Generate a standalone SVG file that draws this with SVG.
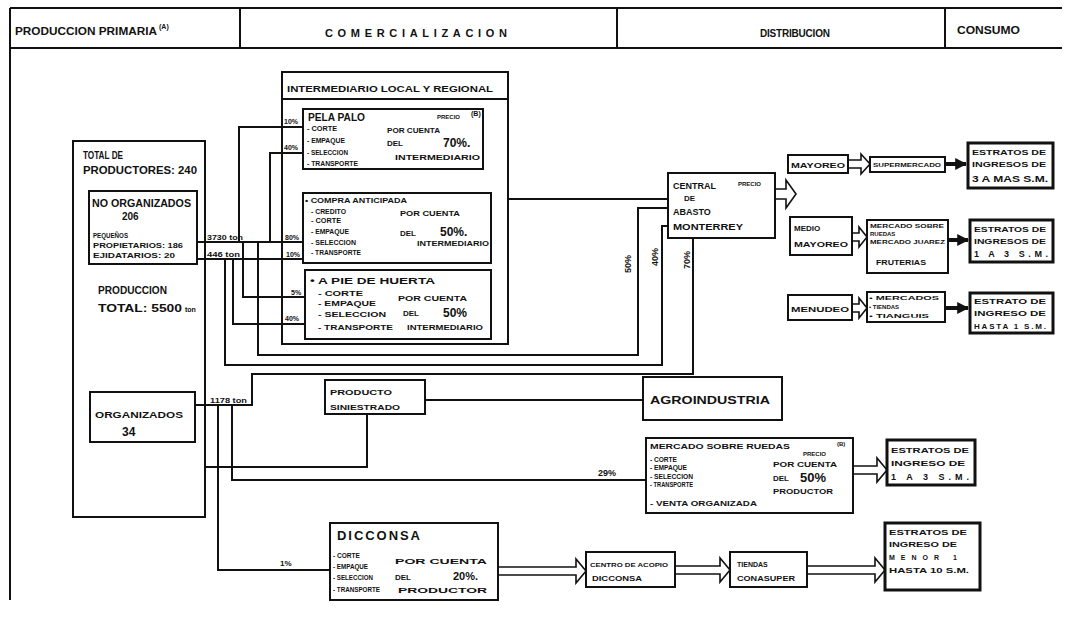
<svg xmlns="http://www.w3.org/2000/svg" width="1070" height="617" viewBox="0 0 1070 617">
<defs>
<style>
.ln{stroke:#111;stroke-width:2;fill:none}
.bx{fill:#fff;stroke:#111;stroke-width:2}
.bx3{fill:#fff;stroke:#111;stroke-width:3}
.ct{fill:none;stroke:#111;stroke-width:2}
.ha{fill:#fff;stroke:#111;stroke-width:1.6}
.fa{fill:none;stroke:#111;stroke-width:4}
text{font-family:"Liberation Sans",Arial,sans-serif;font-weight:bold;fill:#111}
.s6{font-size:6px}.s7{font-size:7px}.s8{font-size:8px}.s9{font-size:9px}.s10{font-size:10px}.s11{font-size:11px}.s12{font-size:12px}.s13{font-size:13px}
</style>
<marker id="ah" viewBox="0 0 10 10" refX="9" refY="5" markerWidth="3" markerHeight="3.2" orient="auto" markerUnits="strokeWidth">
<path d="M0,0 L10,5 L0,10 z" fill="#111"/>
</marker>
</defs>
<rect width="1070" height="617" fill="#fff"/>

<g id="header">
<path class="ln" d="M10,8 H1062 M10,48 H1062 M10,8 V600 M240,8 V48 M617,8 V48 M945,8 V48"/>
<text class="s10" x="15" y="35" textLength="142" lengthAdjust="spacingAndGlyphs">PRODUCCION PRIMARIA</text>
<text class="s7" x="159" y="29">(A)</text>
<text class="s11" x="325" y="37" textLength="182" lengthAdjust="spacing">COMERCIALIZACION</text>
<text class="s10" x="760" y="37" textLength="70" lengthAdjust="spacing">DISTRIBUCION</text>
<text class="s10" x="957" y="34" textLength="63" lengthAdjust="spacingAndGlyphs">CONSUMO</text>
</g>

<g id="connectors">
<path class="ln" d="M197,242 H303"/>
<path class="ln" d="M197,259 H303"/>
<path class="ln" d="M239,242 V127 H303"/>
<path class="ln" d="M270,242 V153 H303"/>
<path class="ln" d="M243,242 V297 H305"/>
<path class="ln" d="M233,259 V324 H305"/>
<path class="ln" d="M258,242 V355 H638 V208 H668"/>
<path class="ln" d="M225,259 V365 H662 V226 H668"/>
<path class="ln" d="M508,199 H668"/>
<path class="ln" d="M195,405 H252 V374 H693 V238"/>
<path class="ln" d="M218,405 V570 H330"/>
<path class="ln" d="M232,405 V480 H646"/>
<path class="ln" d="M205,467 H367 V414"/>
<path class="ln" d="M425,400 H643"/>
<path class="ha" d="M775,189 H786 V180 L796,194 L786,208 V199 H775"/>
<path class="ha" d="M849,160 H861 V154 L870,164 L861,174 V168 H849"/>
<path class="ha" d="M852,233 H859 V227 L867,237 L859,247 V241 H852"/>
<path class="ha" d="M852,304 H859 V298 L867,308 L859,318 V312 H852"/>
<path class="ha" d="M853,466 H877 V458 L887,470 L877,482 V474 H853"/>
<path class="ha" d="M498,567 H576 V559 L586,571 L576,583 V575 H498"/>
<path class="ha" d="M675,566 H720 V558 L730,570 L720,582 V574 H675"/>
<path class="ha" d="M807,566 H875 V558 L885,570 L875,582 V574 H807"/>
<path class="fa" d="M945,164 H966" marker-end="url(#ah)"/>
<path class="fa" d="M948,240 H968" marker-end="url(#ah)"/>
<path class="fa" d="M945,308 H968" marker-end="url(#ah)"/>
<text class="s7" x="207" y="240" textLength="36" lengthAdjust="spacingAndGlyphs">3730 ton</text>
<text class="s7" x="207" y="257" textLength="33" lengthAdjust="spacingAndGlyphs">446 ton</text>
<text class="s7" x="284" y="124">10%</text>
<text class="s7" x="284" y="150">40%</text>
<text class="s7" x="285" y="240">80%</text>
<text class="s7" x="286" y="257">10%</text>
<text class="s7" x="291" y="295">5%</text>
<text class="s7" x="285" y="321">40%</text>
<text class="s9" transform="translate(631,264) rotate(-90)" text-anchor="middle">50%</text>
<text class="s9" transform="translate(658,257) rotate(-90)" text-anchor="middle">40%</text>
<text class="s9" transform="translate(690,260) rotate(-90)" text-anchor="middle">70%</text>
<text class="s7" x="210" y="403" textLength="37" lengthAdjust="spacingAndGlyphs">1178 ton</text>
<text class="s9" x="598" y="476">29%</text>
<text class="s8" x="280" y="566">1%</text>
</g>

<g id="total-productores">
<rect class="ct" x="73" y="141" width="132" height="376"/>
<text class="s10" x="83" y="159" textLength="40" lengthAdjust="spacingAndGlyphs">TOTAL DE</text>
<text class="s10" x="83" y="174" textLength="114" lengthAdjust="spacingAndGlyphs">PRODUCTORES: 240</text>
<text class="s10" x="98" y="294" textLength="69" lengthAdjust="spacingAndGlyphs">PRODUCCION</text>
<text class="s11" x="98" y="312" textLength="84" lengthAdjust="spacingAndGlyphs">TOTAL: 5500</text>
<text class="s7" x="185" y="312">ton</text>
</g>

<g id="no-organizados">
<rect class="bx" x="89" y="191" width="108" height="73"/>
<text class="s10" x="92" y="207" textLength="99" lengthAdjust="spacingAndGlyphs">NO ORGANIZADOS</text>
<text class="s10" x="122" y="220">206</text>
<text class="s8" x="93" y="238" textLength="35" lengthAdjust="spacingAndGlyphs">PEQUEÑOS</text>
<text class="s8" x="93" y="248" textLength="90" lengthAdjust="spacingAndGlyphs">PROPIETARIOS: 186</text>
<text class="s8" x="93" y="258" textLength="82" lengthAdjust="spacingAndGlyphs">EJIDATARIOS: 20</text>
</g>

<g id="organizados">
<rect class="bx" x="90" y="392" width="105" height="50"/>
<text class="s9" x="95" y="418" textLength="88" lengthAdjust="spacingAndGlyphs">ORGANIZADOS</text>
<text class="s12" x="122" y="436">34</text>
</g>

<g id="intermediario">
<rect class="ct" x="282" y="72" width="226" height="272"/>
<path class="ln" d="M282,99 H508"/>
<text class="s9" x="287" y="92" textLength="206" lengthAdjust="spacingAndGlyphs">INTERMEDIARIO LOCAL Y REGIONAL</text>
</g>

<g id="pela-palo">
<rect class="bx" x="303" y="109" width="180" height="60"/>
<text class="s11" x="308" y="121" textLength="57" lengthAdjust="spacingAndGlyphs">PELA PALO</text>
<text class="s6" x="437" y="119">PRECIO</text>
<text class="s7" x="471" y="116">(B)</text>
<text class="s8" x="307" y="131" textLength="30" lengthAdjust="spacingAndGlyphs">- CORTE</text>
<text class="s8" x="307" y="143" textLength="38" lengthAdjust="spacingAndGlyphs">- EMPAQUE</text>
<text class="s8" x="307" y="155" textLength="41" lengthAdjust="spacingAndGlyphs">- SELECCION</text>
<text class="s8" x="307" y="166" textLength="51" lengthAdjust="spacingAndGlyphs">- TRANSPORTE</text>
<text class="s8" x="387" y="133" textLength="53" lengthAdjust="spacingAndGlyphs">POR CUENTA</text>
<text class="s8" x="387" y="146">DEL</text>
<text class="s12" x="443" y="147">70%.</text>
<text class="s8" x="395" y="160" textLength="85" lengthAdjust="spacingAndGlyphs">INTERMEDIARIO</text>
</g>

<g id="compra-anticipada">
<rect class="bx" x="303" y="193" width="188" height="70"/>
<text class="s8" x="305" y="203" textLength="102" lengthAdjust="spacingAndGlyphs">• COMPRA ANTICIPADA</text>
<text class="s8" x="311" y="214" textLength="35" lengthAdjust="spacingAndGlyphs">- CREDITO</text>
<text class="s8" x="311" y="223" textLength="30" lengthAdjust="spacingAndGlyphs">- CORTE</text>
<text class="s8" x="311" y="234" textLength="38" lengthAdjust="spacingAndGlyphs">- EMPAQUE</text>
<text class="s8" x="311" y="245" textLength="45" lengthAdjust="spacingAndGlyphs">- SELECCION</text>
<text class="s8" x="311" y="255" textLength="50" lengthAdjust="spacingAndGlyphs">- TRANSPORTE</text>
<text class="s8" x="400" y="216" textLength="60" lengthAdjust="spacingAndGlyphs">POR CUENTA</text>
<text class="s8" x="400" y="236">DEL</text>
<text class="s12" x="440" y="236">50%.</text>
<text class="s8" x="417" y="246" textLength="72" lengthAdjust="spacingAndGlyphs">INTERMEDIARIO</text>
</g>

<g id="a-pie-de-huerta">
<rect class="bx" x="305" y="270" width="186" height="69"/>
<text class="s9" x="310" y="284" textLength="125" lengthAdjust="spacingAndGlyphs">• A PIE DE HUERTA</text>
<text class="s8" x="318" y="296" textLength="45" lengthAdjust="spacingAndGlyphs">- CORTE</text>
<text class="s8" x="318" y="306" textLength="58" lengthAdjust="spacingAndGlyphs">- EMPAQUE</text>
<text class="s8" x="318" y="317" textLength="68" lengthAdjust="spacingAndGlyphs">- SELECCION</text>
<text class="s8" x="318" y="330" textLength="75" lengthAdjust="spacingAndGlyphs">- TRANSPORTE</text>
<text class="s8" x="398" y="301" textLength="69" lengthAdjust="spacingAndGlyphs">POR CUENTA</text>
<text class="s8" x="403" y="316">DEL</text>
<text class="s12" x="443" y="317">50%</text>
<text class="s8" x="407" y="330" textLength="76" lengthAdjust="spacingAndGlyphs">INTERMEDIARIO</text>
</g>

<g id="central-abasto">
<rect class="bx" x="668" y="173" width="107" height="65"/>
<text class="s9" x="673" y="189">CENTRAL</text>
<text class="s6" x="738" y="186">PRECIO</text>
<text class="s8" x="684" y="201">DE</text>
<text class="s9" x="673" y="215">ABASTO</text>
<text class="s9" x="673" y="230" textLength="70" lengthAdjust="spacingAndGlyphs">MONTERREY</text>
</g>

<g id="mayoreo">
<rect class="bx" x="788" y="155" width="60" height="18"/>
<text class="s8" x="791" y="168" textLength="54" lengthAdjust="spacingAndGlyphs">MAYOREO</text>
</g>
<g id="supermercado">
<rect class="bx" x="870" y="157" width="75" height="15"/>
<text class="s6" x="873" y="167" textLength="68" lengthAdjust="spacingAndGlyphs">SUPERMERCADO</text>
</g>
<g id="estratos-1">
<rect class="bx3" x="968" y="143" width="85" height="45"/>
<text class="s7" x="972" y="155" textLength="74" lengthAdjust="spacingAndGlyphs">ESTRATOS DE</text>
<text class="s7" x="972" y="167" textLength="74" lengthAdjust="spacingAndGlyphs">INGRESOS DE</text>
<text class="s9" x="972" y="182" textLength="76" lengthAdjust="spacingAndGlyphs">3 A MAS S.M.</text>
</g>

<g id="medio-mayoreo">
<rect class="bx" x="790" y="217" width="62" height="38"/>
<text class="s8" x="794" y="231">MEDIO</text>
<text class="s8" x="794" y="247" textLength="54" lengthAdjust="spacingAndGlyphs">MAYOREO</text>
</g>
<g id="mercados-fruterias">
<rect class="bx" x="867" y="220" width="81" height="53"/>
<text class="s6" x="870" y="228" textLength="74" lengthAdjust="spacingAndGlyphs">MERCADO SOBRE</text>
<text class="s6" x="870" y="236">RUEDAS</text>
<text class="s6" x="870" y="244" textLength="75" lengthAdjust="spacingAndGlyphs">MERCADO JUAREZ</text>
<text class="s7" x="876" y="265" textLength="50" lengthAdjust="spacingAndGlyphs">FRUTERIAS</text>
</g>
<g id="estratos-2">
<rect class="bx3" x="970" y="220" width="83" height="42"/>
<text class="s7" x="974" y="232" textLength="72" lengthAdjust="spacingAndGlyphs">ESTRATOS DE</text>
<text class="s7" x="974" y="244" textLength="72" lengthAdjust="spacingAndGlyphs">INGRESOS DE</text>
<text class="s9" x="974" y="257" textLength="74" lengthAdjust="spacing">1 A 3 S.M.</text>
</g>

<g id="menudeo">
<rect class="bx" x="788" y="295" width="64" height="25"/>
<text class="s8" x="791" y="312" textLength="58" lengthAdjust="spacingAndGlyphs">MENUDEO</text>
</g>
<g id="tiendas-tianguis">
<rect class="bx" x="867" y="292" width="78" height="30"/>
<text class="s6" x="869" y="300" textLength="70" lengthAdjust="spacingAndGlyphs">• MERCADOS</text>
<text class="s6" x="869" y="309">• TIENDAS</text>
<text class="s6" x="869" y="318" textLength="60" lengthAdjust="spacingAndGlyphs">• TIANGUIS</text>
</g>
<g id="estratos-3">
<rect class="bx3" x="970" y="293" width="83" height="40"/>
<text class="s7" x="974" y="304" textLength="72" lengthAdjust="spacingAndGlyphs">ESTRATO DE</text>
<text class="s7" x="974" y="316" textLength="72" lengthAdjust="spacingAndGlyphs">INGRESO DE</text>
<text class="s8" x="974" y="329" textLength="72" lengthAdjust="spacing">HASTA 1 S.M.</text>
</g>

<g id="producto-siniestrado">
<rect class="bx" x="325" y="380" width="100" height="34"/>
<text class="s8" x="330" y="395" textLength="62" lengthAdjust="spacingAndGlyphs">PRODUCTO</text>
<text class="s8" x="330" y="410" textLength="70" lengthAdjust="spacingAndGlyphs">SINIESTRADO</text>
</g>

<g id="agroindustria">
<rect class="bx" x="643" y="377" width="139" height="43"/>
<text class="s11" x="650" y="404" textLength="120" lengthAdjust="spacingAndGlyphs">AGROINDUSTRIA</text>
</g>

<g id="mercado-sobre-ruedas">
<rect class="bx" x="646" y="438" width="207" height="75"/>
<text class="s8" x="650" y="449" textLength="140" lengthAdjust="spacingAndGlyphs">MERCADO SOBRE RUEDAS</text>
<text class="s6" x="803" y="456">PRECIO</text>
<text class="s6" x="837" y="446">(B)</text>
<text class="s8" x="650" y="462" textLength="27" lengthAdjust="spacingAndGlyphs">- CORTE</text>
<text class="s8" x="650" y="470" textLength="37" lengthAdjust="spacingAndGlyphs">- EMPAQUE</text>
<text class="s8" x="650" y="479" textLength="43" lengthAdjust="spacingAndGlyphs">- SELECCION</text>
<text class="s8" x="650" y="487" textLength="43" lengthAdjust="spacingAndGlyphs">- TRANSPORTE</text>
<text class="s8" x="650" y="506" textLength="107" lengthAdjust="spacingAndGlyphs">- VENTA ORGANIZADA</text>
<text class="s8" x="773" y="467" textLength="64" lengthAdjust="spacingAndGlyphs">POR CUENTA</text>
<text class="s8" x="773" y="481">DEL</text>
<text class="s13" x="800" y="482">50%</text>
<text class="s8" x="773" y="494" textLength="60" lengthAdjust="spacingAndGlyphs">PRODUCTOR</text>
</g>
<g id="estratos-4">
<rect class="bx3" x="887" y="440" width="88" height="45"/>
<text class="s7" x="891" y="453" textLength="78" lengthAdjust="spacingAndGlyphs">ESTRATOS DE</text>
<text class="s7" x="891" y="466" textLength="74" lengthAdjust="spacingAndGlyphs">INGRESO DE</text>
<text class="s9" x="891" y="480" textLength="78" lengthAdjust="spacing">1 A 3 S.M.</text>
</g>

<g id="diconsa">
<rect class="bx" x="330" y="523" width="168" height="77"/>
<text class="s13" x="337" y="540" textLength="83" lengthAdjust="spacing">DICCONSA</text>
<text class="s8" x="333" y="558" textLength="27" lengthAdjust="spacingAndGlyphs">- CORTE</text>
<text class="s8" x="333" y="569" textLength="35" lengthAdjust="spacingAndGlyphs">- EMPAQUE</text>
<text class="s8" x="333" y="580" textLength="40" lengthAdjust="spacingAndGlyphs">- SELECCION</text>
<text class="s8" x="333" y="592" textLength="47" lengthAdjust="spacingAndGlyphs">- TRANSPORTE</text>
<text class="s8" x="395" y="564" textLength="92" lengthAdjust="spacingAndGlyphs">POR CUENTA</text>
<text class="s8" x="395" y="580">DEL</text>
<text class="s11" x="453" y="580">20%.</text>
<text class="s8" x="398" y="593" textLength="89" lengthAdjust="spacingAndGlyphs">PRODUCTOR</text>
</g>
<g id="centro-acopio">
<rect class="bx" x="586" y="552" width="89" height="35"/>
<text class="s6" x="590" y="567" textLength="78" lengthAdjust="spacingAndGlyphs">CENTRO DE ACOPIO</text>
<text class="s7" x="592" y="581" textLength="50" lengthAdjust="spacingAndGlyphs">DICCONSA</text>
</g>
<g id="tiendas-conasuper">
<rect class="bx" x="730" y="552" width="77" height="35"/>
<text class="s7" x="737" y="567">TIENDAS</text>
<text class="s7" x="737" y="581" textLength="58" lengthAdjust="spacingAndGlyphs">CONASUPER</text>
</g>
<g id="estratos-5">
<rect class="bx3" x="885" y="523" width="95" height="67"/>
<text class="s7" x="889" y="535" textLength="78" lengthAdjust="spacingAndGlyphs">ESTRATOS DE</text>
<text class="s7" x="889" y="547" textLength="68" lengthAdjust="spacingAndGlyphs">INGRESO DE</text>
<text class="s7" x="889" y="560" textLength="68" lengthAdjust="spacing">MENOR 1</text>
<text class="s7" x="889" y="573" textLength="80" lengthAdjust="spacingAndGlyphs">HASTA 10 S.M.</text>
</g>
</svg>
